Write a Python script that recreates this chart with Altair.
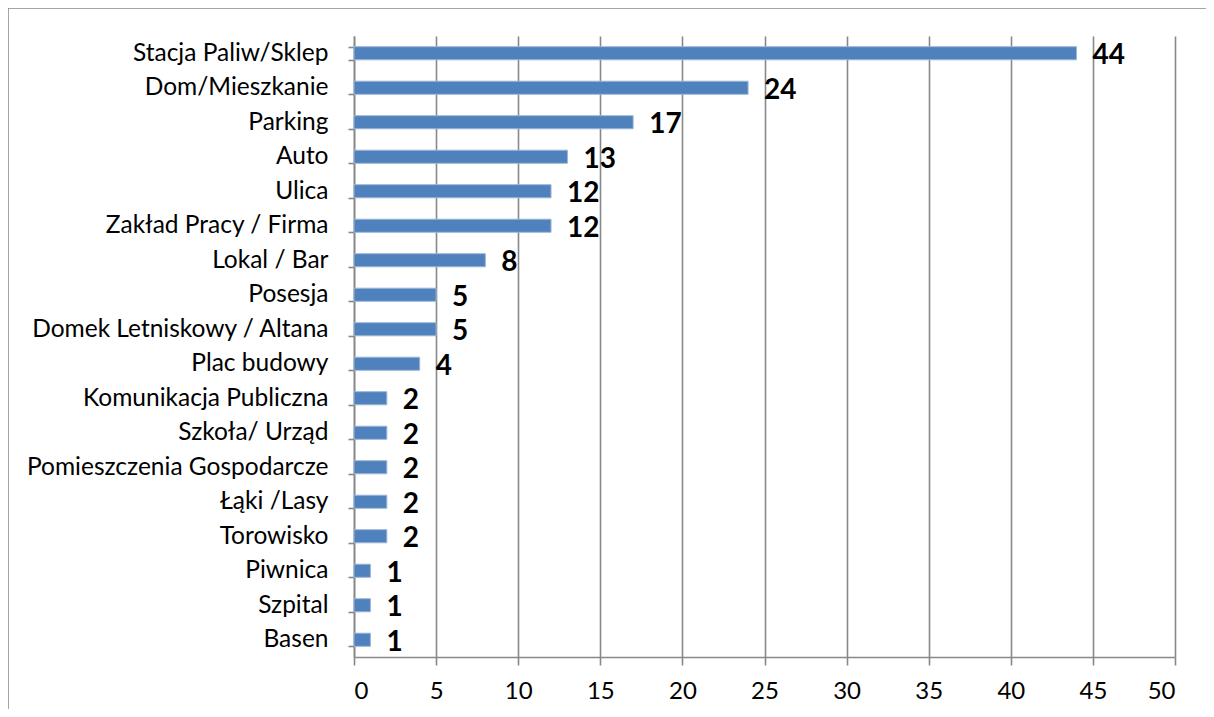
import altair as alt
import pandas as pd

categories = ["Stacja Paliw/Sklep", "Dom/Mieszkanie", "Parking", "Auto", "Ulica",
              "Zakład Pracy / Firma", "Lokal / Bar", "Posesja", "Domek Letniskowy / Altana",
              "Plac budowy", "Komunikacja Publiczna", "Szkoła/ Urząd",
              "Pomieszczenia Gospodarcze", "Łąki /Lasy", "Torowisko", "Piwnica", "Szpital", "Basen"]
values = [44, 24, 17, 13, 12, 12, 8, 5, 5, 4, 2, 2, 2, 2, 2, 1, 1, 1]

df = pd.DataFrame({"kategoria": categories, "liczba": values})

W, H = 821, 621
FONT = "Lato"

x_enc = alt.X("liczba:Q", scale=alt.Scale(domain=[0, 50], nice=False),
              axis=alt.Axis(values=list(range(0, 51, 5)), title=None, grid=True,
                            gridColor="#888888", gridWidth=1.6,
                            domainColor="#888888", domainWidth=1.6,
                            tickColor="#888888", tickWidth=1.6, tickSize=8,
                            labelFont=FONT, labelFontSize=24, labelColor="#000000",
                            labelPadding=14))
y_enc = alt.Y("kategoria:N", sort=categories,
              scale=alt.Scale(paddingInner=0.62, paddingOuter=0.31),
              axis=alt.Axis(title=None, tickBand="extent",
                            domainColor="#888888", domainWidth=1.6,
                            tickColor="#888888", tickWidth=1.6, tickSize=6,
                            labelFont=FONT, labelFontSize=24.5, labelColor="#000000",
                            labelPadding=20, labelLimit=0))

bars = alt.Chart(df).mark_bar(color="#4F81BD", stroke="#9db6d8", strokeWidth=1).encode(
    x=x_enc, y=y_enc)

labels = alt.Chart(df).mark_text(align="left", baseline="middle", dx=16, dy=3,
                                 font=FONT, fontSize=28, fontWeight="bold",
                                 color="#000000").encode(
    x="liczba:Q", y=alt.Y("kategoria:N", sort=categories), text="liczba:Q")

frame = alt.Chart(pd.DataFrame({"a": [0]})).mark_rect(
    fill=None, stroke="#888888", strokeWidth=1.5).encode(
    x=alt.value(-346), x2=alt.value(W + 200),
    y=alt.value(-28), y2=alt.value(H + 200))

chart = alt.layer(bars, labels, frame).properties(
    width=W, height=H,
    autosize=alt.AutoSizeParams(type="none"),
    padding={"left": 346, "top": 28, "right": 31, "bottom": 52},
    background="white",
).configure_view(stroke=None)

chart.save("out.html", embed_options={"renderer": "svg", "actions": False})
